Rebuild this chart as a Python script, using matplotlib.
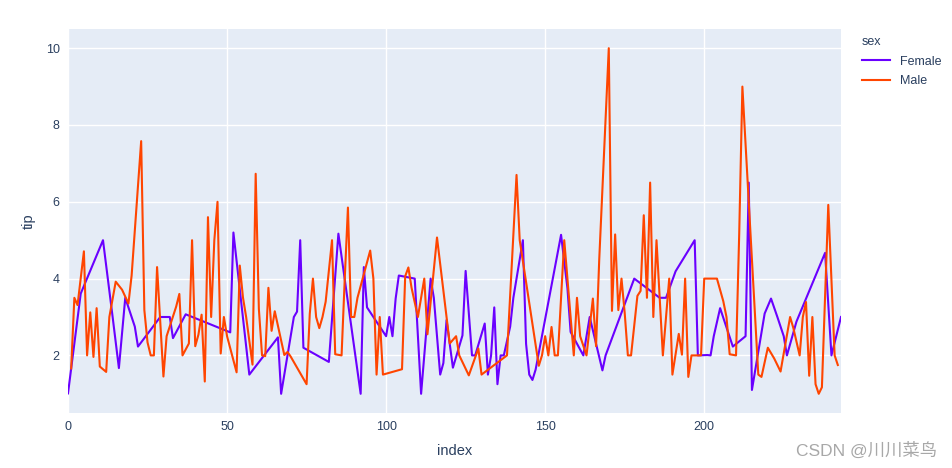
import numpy as np
import matplotlib
matplotlib.use('Agg')
import matplotlib.pyplot as plt

# tips dataset: tip per row and sex per row (F / M)
tips = [
    1.01, 1.66, 3.50, 3.31, 3.61, 4.71, 2.00, 3.12, 1.96, 3.23,
    1.71, 5.00, 1.57, 3.00, 3.02, 3.92, 1.67, 3.71, 3.50, 3.35,
    4.08, 2.75, 2.23, 7.58, 3.18, 2.34, 2.00, 2.00, 4.30, 3.00,
    1.45, 2.50, 3.00, 2.45, 3.27, 3.60, 2.00, 3.07, 2.31, 5.00,
    2.24, 2.54, 3.06, 1.32, 5.60, 3.00, 5.00, 6.00, 2.05, 3.00,
    2.50, 2.60, 5.20, 1.56, 4.34, 3.51, 3.00, 1.50, 1.76, 6.73,
    3.21, 2.00, 1.98, 3.76, 2.64, 3.15, 2.47, 1.00, 2.01, 2.09,
    1.97, 3.00, 3.14, 5.00, 2.20, 1.25, 3.08, 4.00, 3.00, 2.71,
    3.00, 3.40, 1.83, 5.00, 2.03, 5.17, 2.00, 4.00, 5.85, 3.00,
    3.00, 3.50, 1.00, 4.30, 3.25, 4.73, 4.00, 1.50, 3.00, 1.50,
    2.50, 3.00, 2.50, 3.48, 4.08, 1.64, 4.06, 4.29, 3.76, 4.00,
    3.00, 1.00, 4.00, 2.55, 4.00, 3.50, 5.07, 1.50, 1.80, 2.92,
    2.31, 1.68, 2.50, 2.00, 2.52, 4.20, 1.48, 2.00, 2.00, 2.18,
    1.50, 2.83, 1.50, 2.00, 3.25, 1.25, 2.00, 2.00, 2.00, 2.75,
    3.50, 6.70, 5.00, 5.00, 2.30, 1.50, 1.36, 1.63, 1.73, 2.00,
    2.50, 2.00, 2.74, 2.00, 2.00, 5.14, 5.00, 3.75, 2.61, 2.00,
    3.50, 2.50, 2.00, 2.00, 3.00, 3.48, 2.24, 4.50, 1.61, 2.00,
    10.00, 3.16, 5.15, 3.18, 4.00, 3.11, 2.00, 2.00, 4.00, 3.55,
    3.68, 5.65, 3.50, 6.50, 3.00, 5.00, 3.50, 2.00, 3.50, 4.00,
    1.50, 4.19, 2.56, 2.02, 4.00, 1.44, 2.00, 5.00, 2.00, 2.00,
    4.00, 2.01, 2.00, 2.50, 4.00, 3.23, 3.41, 3.00, 2.03, 2.23,
    2.00, 5.16, 9.00, 2.50, 6.50, 1.10, 3.00, 1.50, 1.44, 3.09,
    2.20, 3.48, 1.92, 3.00, 1.58, 2.50, 2.00, 3.00, 2.72, 2.88,
    2.00, 3.00, 3.39, 1.47, 3.00, 1.25, 1.00, 1.17, 4.67, 5.92,
    2.00, 2.00, 1.75, 3.00,
]
sex = ("FMMMFMMMMM" "MFMMFMFMFM" "MFFMMMMMMF" "MMFFMMMFMM"
       "MMMMMMMMMM" "MFFMMMMFMM" "MMMMMMFFMM" "MFFFFMMMMM"
       "MMFMMFMMMM" "MMFFFMMMMM" "FFFFFMMMMF" "MFMMFFMFFF"
       "MFMMFFMFFM" "MFFFFFFFMF" "FMMFFFFFMM" "MMMMMFMFFM"
       "MMFMFMMMFF" "MMMMMMMMFM" "MMMMMMFMFM" "MFMMMMMFFM"
       "MFFFMFMMMF" "MMMFFFMMMF" "MFMFMFFMMF" "MMMMMMMMFM"
       "FMMF")

categories = ['Female', 'Male']
colors = {'Female': '#6A00FF', 'Male': '#FF4500'}

tips = np.array(tips)
index = np.arange(len(tips))
sex_full = np.array(['Female' if s == 'F' else 'Male' for s in sex])

plt.rcParams['font.family'] = ['Liberation Sans', 'DejaVu Sans']
text_col = '#2a3f5f'

fig = plt.figure(figsize=(9.53, 4.68), dpi=100)
ax = fig.add_axes([68 / 953, 1 - 413 / 468, (841 - 68) / 953, (413 - 29) / 468])
ax.set_facecolor('#E5ECF6')

for cat in categories:
    m = sex_full == cat
    ax.plot(index[m], tips[m], color=colors[cat], lw=1.5, label=cat)

ax.set_xlim(0, 243)
ax.set_ylim(0.5, 10.5)
ax.set_xticks([0, 50, 100, 150, 200])
ax.set_yticks([2, 4, 6, 8, 10])
ax.grid(color='white', lw=1)
ax.set_axisbelow(True)
for s in ax.spines.values():
    s.set_visible(False)
ax.tick_params(length=0, labelsize=9, labelcolor=text_col, pad=6)

ax.set_xlabel('index', fontsize=10.5, color=text_col, labelpad=8)
ax.set_ylabel('tip', fontsize=10.5, color=text_col, labelpad=7)

leg = ax.legend(loc='upper left', bbox_to_anchor=(1.012, 1.011), frameon=False,
                title='sex', alignment='left', handlelength=2.3,
                labelspacing=0.6, fontsize=9, title_fontsize=9,
                labelcolor=text_col)
leg.get_title().set_color(text_col)

fig.text(0.983, 0.037, 'CSDN @川川菜鸟', ha='right', va='center', fontsize=12.5,
         color='#a8a8a8', family=['Liberation Sans', 'Noto Sans CJK SC'])

fig.savefig('out.png', dpi=100)
